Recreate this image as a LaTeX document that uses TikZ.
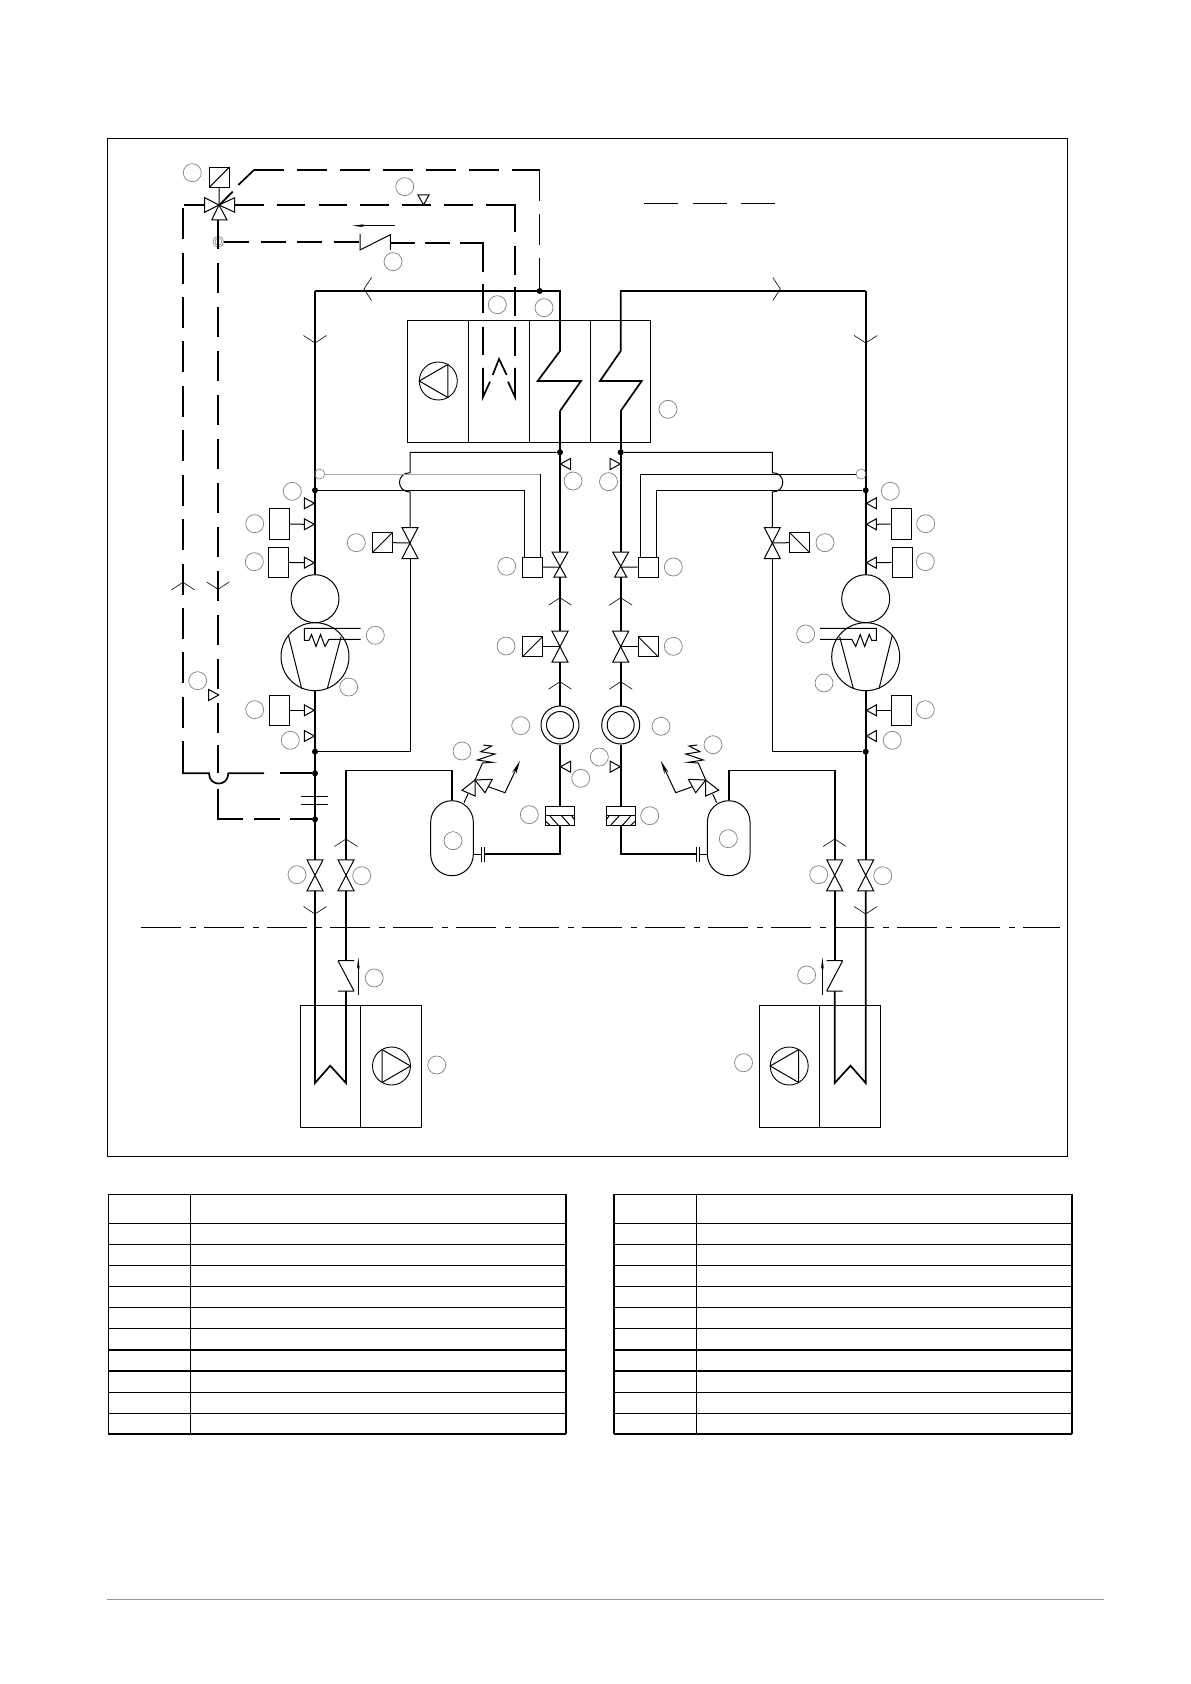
\documentclass[tikz,border=0pt]{standalone}
\usetikzlibrary{arrows.meta}
\definecolor{footerline}{HTML}{C98A55}
\tikzset{
  pipe/.style={line width=0.85pt},
  wire/.style={line width=0.5pt},
  dashB/.style={pipe, dash pattern=on 12.5pt off 5.75pt},
  dashC/.style={pipe, dash pattern=on 15.5pt off 6.7pt},
  dashD/.style={pipe, dash pattern=on 15pt off 7pt},
  dashT/.style={wire, dash pattern=on 15.5pt off 6.5pt},
  tag/.style={circle, draw=black!50, line width=0.35pt, minimum size=9pt, inner sep=0pt},
  ring/.style={circle, draw, line width=0.5pt, inner sep=0pt},
  cell/.style={rectangle, draw, wire, inner sep=0pt},
  vbox/.style={inner sep=0pt, outer sep=0pt, minimum width=8pt, minimum height=15.5pt},
  dot/.style={circle, fill=black, inner sep=0pt, minimum size=3pt},
  tapring/.style={circle, draw=gray, line width=0.3pt, inner sep=0pt},
  bowtie/.pic={\draw[wire] (-8,-15.5) -- (8,-15.5) -- (-8,15.5) -- (8,15.5) -- cycle;},
  shortbowtie/.pic={\draw[wire] (-8,-15) -- (8,-15) -- (-6,10) -- (6,10) -- cycle;},
  flowtick/.pic={\draw[line width=0.3pt] (-11.5,7.5) -- (0,0) -- (11.5,7.5);},
  senstri/.pic={\draw[wire] (0,0) -- (-10,-5.5) -- (-10,5.5) -- cycle;},
  fantri/.pic={\draw[wire] (-9.5,-16.5) -- (-9.5,16.5) -- (19,0) -- cycle;},
  slash/.pic={\draw[wire] (-10.2,10.2) -- (10.2,-10.2);}
}
% one refrigerant circuit, drawn for the left side; the right one is its mirror image
\newcommand{\halfside}[5]{
% compressor and motor
\node[ring, minimum size=24pt] (motor#1) at (315,598.7) {};
\node[ring, minimum size=34pt] (comp#1) at (315,656.7) {};
\draw[wire] (288.3,635) -- (301.7,688.7);
\draw[wire] (341,637) -- (327.3,688.7);
\draw[wire] (360.7,628.3) -- (304.3,628.3) -- (304.3,640.3) -- (309,640.3) -- (311.5,634.5) -- (316,646.5) -- (320.5,634.5) -- (325,646.5) -- (329,639.3) -- (360.7,639.3);
% transducers on the compressor line
\node[cell, minimum width=10.2pt, minimum height=15.5pt] (boxA#1) at (279.5,523.8) {};
\node[cell, minimum width=10.2pt, minimum height=15pt] (boxB#1) at (278.5,562.3) {};
\node[cell, minimum width=10.2pt, minimum height=15pt] (boxC#1) at (279.5,710.3) {};
\coordinate (stemA#1) at (304.3,524.3);
\coordinate (stemB#1) at (304.3,562.7);
\coordinate (stemC#1) at (304.3,710.3);
\draw[wire] (boxA#1) -- (stemA#1);
\draw[wire] (boxB#1) -- (stemB#1);
\draw[wire] (boxC#1) -- (stemC#1);
\pic[xscale=#5] at (314.3,503.3) {senstri};
\pic[xscale=#5] at (314.3,524.3) {senstri};
\pic[xscale=#5] at (314.3,562.7) {senstri};
\pic[xscale=#5] at (314.3,710.3) {senstri};
\pic[xscale=#5] at (314.3,736) {senstri};
% junctions
\coordinate (corner#1) at (315,291);
\node[dot] (dotHi#1) at (315,490.3) {};
\node[dot] (dotLo#1) at (315,751.7) {};
\node[dot] (dotCoil#1) at (560,452.3) {};
\coordinate (zigout#1) at (560,411);
% valves on the liquid and suction lines
\node[vbox, minimum height=12.5pt] (valveE#1) at (560,564.5) {};
\coordinate (spindle#1) at (560,567);
\pic at (spindle#1) {shortbowtie};
\node[vbox] (valveS#1) at (560,646.7) {};
\pic at (valveS#1) {bowtie};
\node[vbox] (valveB#1) at (#3,543) {};
\pic at (valveB#1) {bowtie};
\node[vbox] (valveM#1) at (315,875.3) {};
\pic at (valveM#1) {bowtie};
\node[vbox] (valveH#1) at (346,875.3) {};
\pic at (valveH#1) {bowtie};
\node[cell, minimum size=10.2pt] (sqS#1) at (532.5,646.7) {};
\pic[xscale=#5] at (sqS#1) {slash};
\node[cell, minimum size=10.2pt] (sqB#1) at (#4,542.5) {};
\pic[xscale=#5] at (sqB#1) {slash};
\node[cell, minimum width=10.2pt, minimum height=10pt] (bulb#1) at (532.5,567.3) {};
\draw[wire] (sqS#1) -- (valveS#1.center);
\draw[wire] (sqB#1) -- (valveB#1.center);
\draw[wire] (bulb#1) -- (spindle#1);
% sight glass, filter, receiver
\node[ring, minimum size=19pt] (sight#1) at (560,725) {};
\node[ring, minimum size=13.5pt] (sightin#1) at (560,725) {};
\node[cell, minimum width=14.7pt, minimum height=9.5pt] (filter#1) at (560,815.7) {};
\draw[wire] (545.3,815.9) -- (574.7,815.9);
\draw[wire] (545.3,821) -- (550,825.3) (550,816) -- (558.3,825.3) (561.7,816) -- (570,825.3) (571.7,816) -- (574.7,820);
\node[cell, rounded corners=10.65pt, minimum width=21.3pt, minimum height=37.5pt] (tank#1) at (452,838.2) {};
\coordinate (tankIn#1) at (473.3,854);
\coordinate (gapA#1) at (484.3,854);
\coordinate (gapB#1) at (481,854);
\draw[wire] (gapA#1) ++(0,-7) -- ++(0,14.5);
\draw[wire] (gapB#1) ++(0,-7) -- ++(0,14.5);
\draw[wire] (gapB#1) -- (tankIn#1);
% safety valve on the receiver
\draw[wire] (464,802.7) -- (468,794);
\draw[wire] (475,780) -- (462,790.3) -- (475,796) -- cycle;
\draw[wire] (475,780) -- (492.3,779.3) -- (485,792.7) -- cycle;
\draw[wire] (475,780) -- (482.5,763) -- (492.3,762.3) -- (477.3,760) -- (495,754) -- (480.7,751.7) -- (491.7,746) -- (483.3,745);
\draw[wire, -{Stealth[length=7pt,width=2.2pt]}] (488.3,786.7) -- (505,792.7) -- (520,760.7);
% main lines
\draw[pipe] (corner#1) -- (motor#1);
\draw[pipe] (comp#1) -- (valveM#1.north);
\draw[pipe] (zigout#1) -- (valveE#1.north);
\draw[pipe] (valveE#1.south) -- (valveS#1.north);
\draw[pipe] (valveS#1.south) -- (sight#1);
\draw[pipe] (sight#1) -- (filter#1);
\draw[pipe] (filter#1.south) |- (gapA#1);
\draw[pipe] (tank#1.north) -- ++(0,-29.7) -| (valveH#1.north);
\draw[pipe] (valveH#1.south) -- (346,961);
\draw[pipe] (346,991) -- (346,1083) -- (330.2,1065.7) -- (315,1083) -- (valveM#1.south);
\pic at (315,343) [rotate=180] {flowtick};
\pic at (560,597.7) {flowtick};
\pic at (560,681.7) {flowtick};
\pic at (346,839) {flowtick};
\pic at (315,914) [rotate=180] {flowtick};
\pic[xscale=#5, rotate=180] at (560.5,766.7) {senstri};
\pic[xscale=#5, rotate=180] at (560.5,464) {senstri};
% thin lines to the bypass and the expansion valve
\draw[wire] (dotCoil#1) -- (#3,452.3) -- (#3,472.7) .. controls +(-14,0) and +(-14,0) .. (#3,492) -- (valveB#1.north);
\draw[wire] (valveB#1.south) -- (#3,751.7) -- (dotLo#1);
\node[tapring, minimum size=5pt] (tap#1) at (319.7,474) {};
\draw[wire, #2] (tap#1) -- (540.3,474);
\draw[wire] (540.3,474) -- (540.3,557.3);
\draw[wire] (dotHi#1) -- (524.3,490.3) -- (524.3,557.3);
% return check valve and outdoor unit
\draw[wire] (338,960.7) -- (354,960.7) (338,960.7) -- (354,991) (338,991) -- (354,991);
\draw[line width=0.3pt, -{Stealth[length=6pt,width=1.4pt]}] (358.3,995) -- (358.3,957.5);
\node[cell, minimum width=60.5pt, minimum height=61pt] (unit#1) at (360.85,1066.5) {};
\draw[wire] (360.8,1005.5) -- (360.8,1127.5);
\node[ring, line width=0.45pt, minimum size=19pt] (fan#1) at (391.5,1066) {};
\pic[xscale=#5] at (fan#1) {fantri};
}
% frame and legend, same for both tables
\newcommand{\legendtable}[3]{
\draw[line width=0.6pt] (#1,1194.3) -- (#3,1194.3);
\draw[line width=0.6pt] (#1,1194.3) -- (#1,1434);
\draw[wire] (#2,1194.3) -- (#2,1434);
\draw[pipe] (#3,1194.3) -- (#3,1434);
\draw[pipe] (#1,1434) -- (#3,1434);
\draw[wire] (#1,1223.3) -- (#3,1223.3);
\draw[wire] (#1,1244.3) -- (#3,1244.3);
\draw[wire] (#1,1265.3) -- (#3,1265.3);
\draw[wire] (#1,1286.3) -- (#3,1286.3);
\draw[wire] (#1,1307.3) -- (#3,1307.3);
\draw[wire] (#1,1328.3) -- (#3,1328.3);
\draw[pipe] (#1,1350) -- (#3,1350);
\draw[pipe] (#1,1370.7) -- (#3,1370.7);
\draw[wire] (#1,1392.3) -- (#3,1392.3);
\draw[wire] (#1,1413.3) -- (#3,1413.3);
}

\begin{document}
\begin{tikzpicture}[x=0.5pt, y=-0.5pt]
\useasboundingbox (0,0) rectangle (1190,1684);
\fill[white] (0,0) rectangle (1190,1684);

\draw[wire] (107,138.4) rectangle (1067.7,1156);
\draw[wire, dash pattern=on 20pt off 4.8pt on 2.6pt off 4.1pt] (140.8,927) -- (1060,927);
\draw[wire, dash pattern=on 17pt off 7.25pt] (644,204) -- (775,204);
\draw[footerline, line width=0.5pt] (106.7,1599) -- (1104,1599);

% the air handling unit
\node[cell, minimum width=121.7pt, minimum height=60.9pt] (ahu) at (529,381.4) {};
\draw[wire] (468.3,320.5) -- (468.3,442.3);
\draw[wire] (529.3,320.5) -- (529.3,442.3);
\draw[wire] (590.7,320.5) -- (590.7,442.3);
\node[ring, line width=0.45pt, minimum size=19pt] (ahufan) at (438.3,381) {};
\pic at (ahufan) [rotate=180] {fantri};

% both circuits
\halfside{L}{gray!70}{410}{382.5}{1}
\begin{scope}[shift={(1180.7,0)}, xscale=-1]
\halfside{R}{black}{408.4}{381.2}{-1}
\end{scope}

\draw[pipe] (zigoutL) -- (581,381) -- (537.7,381) -- (560,351) -- (560,291) -- (cornerL);
\draw[pipe] (zigoutR) -- (641.7,381) -- (600,381) -- (620.7,351) -- (620.7,291) -- (cornerR);
\pic at (364,289) [rotate=90] {flowtick};
\pic at (780.3,289) [rotate=-90] {flowtick};

% mixing valve and the control lines
\node[cell, minimum size=10pt] (actuator) at (219.3,177.3) {};
\pic at (actuator) {slash};
\coordinate (mix) at (219,205);
\draw[wire] (actuator) -- (mix);
\draw[wire] (mix) -- (204.7,197.7) -- (204.7,212.3) -- cycle;
\draw[wire] (mix) -- (234.7,197.7) -- (234.7,212.3) -- cycle;
\draw[wire] (mix) -- (211.7,220) -- (227,220) -- cycle;
\node[dot] (dotTop) at (539.7,291) {};
\node[dot] (dotSuc) at (315,773.3) {};
\node[dot] (dotDis) at (315,819.3) {};
\node[tapring, minimum size=5.4pt] (port) at (218.3,241.7) {};
\node[tapring, minimum size=3.4pt] (portin) at (218.3,241.7) {};

% hot gas line with its reheat coil
\draw[pipe, dash pattern=on 14.4pt off 6.55pt] (234.7,205) -- (486,205);
\draw[pipe] (486,205) -- (515,205) -- (515,231.7);
\draw[pipe, dash pattern=on 14.5pt off 5.85pt] (515,246) -- (515,360);
\draw[pipe] (515,368) -- (515,397) -- (508,381.7);
\draw[pipe] (506.7,375) -- (499,359) -- (492.7,375);
\draw[pipe] (490,381.7) -- (483,397) -- (483,368);
\draw[pipe, dash pattern=on 14.4pt off 6.9pt] (483,284) -- (483,356);
\draw[pipe] (460,242.7) -- (483,242.7) -- (483,272);
\draw[pipe] (425,242.7) -- (450,242.7);
\draw[pipe] (390.3,242.7) -- (415,242.7);

\draw[dashB] (224,241.7) -- (360,241.7);
\draw[pipe] (204.7,205) -- (184,205);
\draw[dashC] (183,208.3) -- (183,742.7);
\draw[pipe] (183,742.7) -- (183,773.3) -- (209,773.3) .. controls (209,787) and (228.3,787) .. (228.3,773.3) -- (264,773.3);
\draw[pipe] (280,773.3) -- (dotSuc);
\draw[pipe] (218,220) -- (218,249.3);
\draw[dashD] (218,263.3) -- (218,745);
\draw[pipe] (218,745) -- (218,773.3);
\draw[pipe] (218,789.3) -- (218,819.3) -- (242.7,819.3);
\draw[pipe] (254,819.3) -- (280,819.3);
\draw[pipe] (290,819.3) -- (dotDis);
\draw[wire] (301,796.7) -- (327.7,796.7);
\draw[wire] (301,804) -- (327.7,804);

\draw[pipe, dash pattern=on 14.9pt off 6.6pt] (254,170) -- (539.7,170);
\draw[dashT] (539.7,170) -- (dotTop);
\draw[pipe] (254,170) -- (238.3,185);
\draw[pipe] (232.7,191.7) -- (219.3,205);

% refrigerant check valve
\draw[wire] (360,234) -- (360,250) -- (390.3,234.7) -- (390.3,250);
\draw[line width=0.3pt, -{Stealth[length=6pt,width=1.4pt]}] (395,225.7) -- (352.3,225.7);
\pic at (423.5,205) [rotate=-90] {senstri};
\pic at (218.7,695) {senstri};
\pic at (183,582.3) {flowtick};
\pic at (218,589.3) [rotate=180] {flowtick};

% position marks
\node[tag] (tagmix) at (192.3,172.7) {};
\node[tag] (tagsens) at (404.7,186.7) {};
\node[tag] (tagcheck) at (393,261.7) {};
\node[tag] (tagcoilin) at (497.3,304.7) {};
\node[tag] (tagcoilout) at (544,307.7) {};
\node[tag] (tagahu) at (668,409.3) {};
\node[tag] (tagtriL) at (573,481) {};
\node[tag] (tagtriR) at (608.5,481.7) {};
\node[tag] (taghiL) at (292.3,491.3) {};
\node[tag] (tagboxAL) at (254.7,523.7) {};
\node[tag] (tagboxBL) at (254.3,561.7) {};
\node[tag] (tagbypL) at (356.3,542.7) {};
\node[tag] (tagbulbL) at (506.7,566.3) {};
\node[tag] (tagheatL) at (375.3,635.3) {};
\node[tag] (tagsolL) at (506,646) {};
\node[tag] (tagcompL) at (348.7,687) {};
\node[tag] (tagboxCL) at (254.7,709.7) {};
\node[tag] (tagloL) at (290.3,740.3) {};
\node[tag] (tagsightL) at (520.7,725.7) {};
\node[tag] (tagsafeL) at (462,751) {};
\node[tag] (tagliqL) at (580.7,778.3) {};
\node[tag] (tagliqR) at (599.3,757) {};
\node[tag] (tagfilterL) at (529.3,814.7) {};
\node[tag] (tagtankL) at (453,840.7) {};
\node[tag] (tagvalML) at (297,874.7) {};
\node[tag] (tagvalHL) at (361.7,875.7) {};
\node[tag] (tagbulbR) at (673.3,567) {};
\node[tag] (tagbypR) at (825,542.7) {};
\node[tag] (taghiR) at (890.3,491.3) {};
\node[tag] (tagboxAR) at (925.7,523.7) {};
\node[tag] (tagboxBR) at (925.3,561.7) {};
\node[tag] (tagheatR) at (805.7,634) {};
\node[tag] (tagsolR) at (673.3,646.3) {};
\node[tag] (tagcompR) at (824,683) {};
\node[tag] (tagboxCR) at (925.3,709.7) {};
\node[tag] (tagloR) at (892.3,740.3) {};
\node[tag] (tagsightR) at (661,726.3) {};
\node[tag] (tagsafeR) at (713,744.7) {};
\node[tag] (tagfilterR) at (649.7,815.7) {};
\node[tag] (tagtankR) at (728.3,838.7) {};
\node[tag] (tagvalHR) at (818.7,874.7) {};
\node[tag] (tagvalMR) at (882.7,875.7) {};
\node[tag] (tagwater) at (197.7,680.7) {};
\node[tag] (tagretL) at (374.2,978) {};
\node[tag] (tagunitL) at (436.7,1065) {};
\node[tag] (tagunitR) at (743.5,1062.7) {};
\node[tag] (tagretR) at (806.6,975) {};

% the two tables
\legendtable{108.3}{190.6}{566.2}
\legendtable{614}{696.3}{1072}
\end{tikzpicture}
\end{document}
